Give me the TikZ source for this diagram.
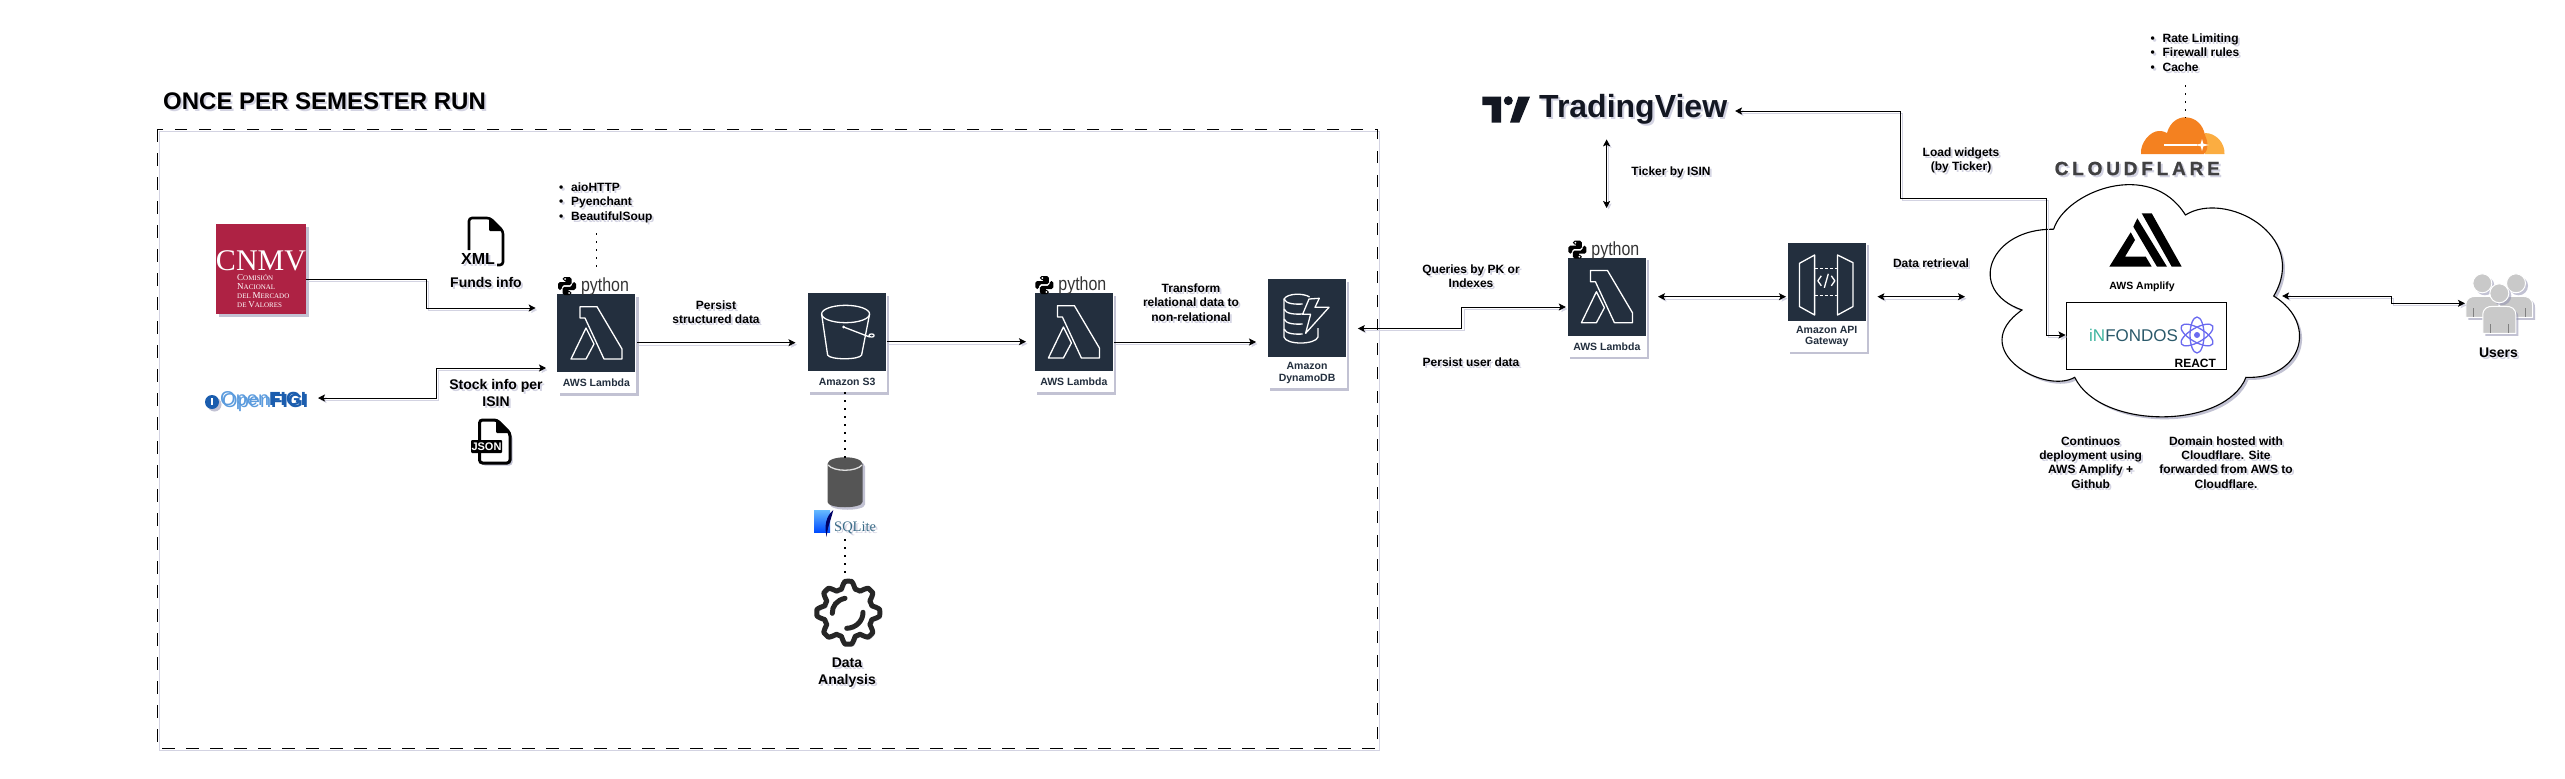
\documentclass[tikz,border=0pt]{standalone}
\usepackage{fontspec}
\setmainfont{Liberation Sans}
\newfontfamily\serifnm{Liberation Serif}
\usetikzlibrary{arrows.meta, positioning, calc, shadows}

\definecolor{shadowcol}{HTML}{D3D3E2}
\definecolor{shadowdark}{HTML}{8F8FAE}
\definecolor{awsdark}{HTML}{232F3E}
\definecolor{cnmvred}{HTML}{AE2244}
\definecolor{figilight}{HTML}{5B9BDD}
\definecolor{figidark}{HTML}{1B5DAE}
\definecolor{dbgray}{HTML}{555555}
\definecolor{sqlitetxt}{HTML}{3A6B87}
\definecolor{tvdark}{HTML}{131722}
\definecolor{flaredark}{HTML}{404041}
\definecolor{flareorange}{HTML}{F48120}
\definecolor{flarelight}{HTML}{FBAD41}
\definecolor{infteal}{HTML}{3FB5A0}
\definecolor{infslate}{HTML}{2B5A6B}
\definecolor{atomblue}{HTML}{6A6AF0}
\definecolor{usergray}{HTML}{C9C9C9}

% text with its soft copy behind it
\newcommand{\sd}[1]{\leavevmode\rlap{\raisebox{-2pt}{\kern2pt\textcolor{shadowcol}{#1}}}#1}
\newcommand{\scc}[2]{{\fontsize{9}{9}\selectfont #1}{\fontsize{7}{9}\selectfont #2}}
\newcommand{\bul}[1]{\makebox[12pt][l]{\textbullet}#1}

\tikzset{
  softshadow/.style={drop shadow={shadow xshift=2.5pt, shadow yshift=-2.5pt, fill=shadowdark, opacity=.55}},
  lineshadow/.style={preaction={draw=shadowcol, transform canvas={xshift=2pt, yshift=-2pt}}},
  conn/.style={draw, line width=.9pt, lineshadow, -{Stealth[length=7pt, width=7pt, inset=1.5pt]}},
  twoway/.style={conn, {Stealth[length=7pt, width=7pt, inset=1.5pt]}-{Stealth[length=7pt, width=7pt, inset=1.5pt]}},
  dots/.style={draw, line width=1.6pt, dash pattern=on 1.6pt off 6.4pt},
  lbl/.style={inner sep=0pt, align=center, font=\bfseries\fontsize{12}{14.4}\selectfont},
  biglbl/.style={inner sep=0pt, align=center, font=\bfseries\fontsize{14}{17}\selectfont},
  bullets/.style={lbl, align=left, anchor=west},
  cardbox/.style={fill=white, minimum width=79pt, inner sep=0pt, anchor=north west, softshadow},
  cardicon/.style={fill=awsdark, minimum width=78pt, minimum height=78pt, inner sep=0pt, anchor=north west},
  cardtext/.style={inner sep=0pt, align=center, text=awsdark, font=\bfseries\fontsize{10.5}{11.7}\selectfont},
  glyph/.style={draw=white, line width=1.3pt, line join=round},
  pytext/.style={inner sep=0pt, xscale=.84, transform shape, text=black!80, font=\fontsize{19}{19}\selectfont},
  docline/.style={draw, line width=2.6pt, rounded corners=3pt},
  lambdaglyph/.pic={
    \draw[glyph] (23,12.7) -- (40,12.7) -- (65,55) -- (65,65) -- (47,65) -- (28,24) -- (23,24) -- cycle;
    \draw[glyph] (14,65) -- (29,34) -- (37,50) -- (29,65) -- cycle;
  },
  bucketglyph/.pic={
    \draw[glyph] (38,21) ellipse (24pt and 8.7pt);
    \draw[glyph] (14,21) -- (20,62) .. controls (22,67) and (52,67) .. (54,62) -- (62,21);
    \draw[glyph] (36,34) -- (62,44);
    \draw[glyph] (64,42.5) ellipse (2.6pt and 1.6pt);
    \fill[white] (36,34) circle (1.6pt);
  },
  dynamoglyph/.pic={
    \draw[glyph] (42,18) .. controls (36,14) and (20,14) .. (16.4,20) -- (16.4,58)
      .. controls (18,66) and (48,66) .. (50.4,58) -- (50.4,49);
    \foreach \yy in {20,30,40,50}
      \draw[glyph] (16.4,\yy) .. controls (18,\yy+5) and (28,\yy+5.5) .. (35,\yy+5);
    \draw[glyph] (41.4,20) -- (51.7,19.3) -- (47.4,28.3) -- (61.4,28.3) -- (38,54.3) -- (43,35.3) -- (35,35.3) -- cycle;
  },
  apiglyph/.pic={
    \draw[glyph] (12.2,21) -- (27.3,12.7) -- (27.3,72.7) -- (12.2,64.3) -- cycle;
    \draw[glyph] (50.2,12.7) -- (65.6,20.3) -- (65.6,64.3) -- (50.2,72.7) -- cycle;
    \draw[glyph, dash pattern=on 3pt off 2pt] (27.3,26) -- (50.2,26);
    \draw[glyph, dash pattern=on 3pt off 2pt] (27.3,53) -- (50.2,53);
    \draw[glyph] (34,33.5) -- (30.5,38.5) -- (34,43.5);
    \draw[glyph] (44,33.5) -- (47.5,38.5) -- (44,43.5);
    \draw[glyph] (41,31.5) -- (37,45.5);
  },
  pysnake/.pic={
    \fill[rounded corners=1.8pt] (-4.5,-9) -- (4.5,-9) -- (4.5,-.8) -- (-5.2,-.8) -- (-5.2,4) -- (-9,4) -- (-9,-4)
      -- (0,-4) -- (0,-5.2) -- (-4.5,-5.2) -- cycle;
    \fill[rounded corners=1.8pt] (4.5,9) -- (-4.5,9) -- (-4.5,.8) -- (5.2,.8) -- (5.2,-4) -- (9,-4) -- (9,4)
      -- (0,4) -- (0,5.2) -- (4.5,5.2) -- cycle;
    \fill[white] (-2,-7) circle (1pt);
    \fill[white] (2,7) circle (1pt);
  },
  pics/person/.style={code={
    \path[fill=usergray, draw=white, line width=1pt, softshadow] (0,0) circle (9.5pt);
    \path[fill=usergray, draw=white, line width=1pt, softshadow]
      (-16.5,#1) -- (-16.5,22) .. controls (-16.5,15) and (-12,13) .. (-6,13) -- (6,13)
      .. controls (12,13) and (16.5,15) .. (16.5,22) -- (16.5,#1) -- cycle;
    \draw[gray, line width=.7pt] (-9,#1-9) -- (-9,#1) (9,#1-9) -- (9,#1);
  }},
}

\newcommand{\awscard}[6]{%
  \node[cardbox, minimum height=#4pt] (#1) at (#2,#3) {};
  \node[cardicon] (#1icon) at (#1.north west) {};
  \node[cardtext] (#1text) at ($(#1icon.south)!.5!(#1.south)$) {#5};
  \pic at (#1icon.north west) {#6};
}
\newcommand{\pylogo}[1]{%
  \pic at ([shift={(10pt,8pt)}]#1.north west) {pysnake};
  \node[pytext] (#1py) at ([shift={(48pt,7pt)}]#1.north west) {python};
}

\begin{document}
\begin{tikzpicture}[x=1pt, y=-1pt]
  \useasboundingbox (0,0) rectangle (2565,779);

  % semester box
  \node[inner sep=0pt, font=\bfseries\fontsize{24}{24}\selectfont, anchor=west] (title) at (163,102) {\sd{ONCE PER SEMESTER RUN}};
  \path[draw, line width=.9pt, dash pattern=on 12.5pt off 11.5pt, lineshadow] (157,129) rectangle (1377,748);

  % sources
  \node[fill=cnmvred, minimum width=90pt, minimum height=90pt, inner sep=0pt, anchor=north west, softshadow] (cnmv) at (216,224) {};
  \node[inner sep=0pt, text=white, font=\serifnm\fontsize{30}{30}\selectfont] (cnmvname) at (261,261) {CNMV};
  \node[inner sep=0pt, text=white, align=left, anchor=north west, font=\serifnm\fontsize{9}{8.9}\selectfont] (cnmvsub) at (237,274.5)
    {\scc{C}{OMISIÓN}\\ \scc{N}{ACIONAL}\\ \scc{}{DEL }\scc{M}{ERCADO}\\ \scc{}{DE }\scc{V}{ALORES}};
  \node[inner sep=0pt, anchor=west, font=\fontsize{20}{20}\selectfont] (figi) at (220,402)
    {\sd{\textcolor{figilight}{Open}{\fontsize{19}{19}\selectfont\bfseries\textcolor{figidark}{FIGI}}}};
  \fill[figidark, softshadow] (212,402) circle (7pt);
  \draw[white, line width=1.4pt] (212,398) -- (212,405);

  \draw[docline] (469,250) -- (469,218) -- (490,218) -- (503,231) -- (503,265) -- (497,265);
  \fill[rounded corners=1pt] (489,218) -- (489,231) -- (503,231) -- cycle;
  \node[inner sep=0pt, font=\bfseries\fontsize{16}{16}\selectfont] (xml) at (478,259.5) {\sd{XML}};
  \node[biglbl] (funds) at (486,283) {\sd{Funds info}};
  \node[biglbl] (stock) at (496,393.5) {\sd{Stock info per}\\\sd{ISIN}};
  \draw[docline, line width=3pt, fill=white, softshadow] (479.5,420) -- (497,420) -- (510,433) -- (510,463) -- (479.5,463) -- cycle;
  \fill[rounded corners=1pt] (496,420) -- (496,433) -- (510,433) -- cycle;
  \node[fill=black, rounded corners=1pt, minimum width=31pt, minimum height=13pt, inner sep=0pt, text=white, font=\bfseries\fontsize{11}{11}\selectfont] (json) at (486.5,446.5) {JSON};

  % pipeline cards
  \awscard{lamA}{557}{294}{99}{AWS Lambda}{lambdaglyph}
  \awscard{bucket}{807.6}{293}{99}{Amazon S3}{bucketglyph}
  \awscard{lamB}{1034.4}{293}{99}{AWS Lambda}{lambdaglyph}
  \awscard{dynamo}{1267.6}{279}{109}{Amazon\\DynamoDB}{dynamoglyph}
  \awscard{lamC}{1567.4}{257.7}{99}{AWS Lambda}{lambdaglyph}
  \awscard{gateway}{1787.3}{242.3}{109.4}{Amazon API\\Gateway}{apiglyph}
  \pylogo{lamA}
  \pylogo{lamB}
  \pylogo{lamC}

  \node[bullets] (libs) at (559,203.5) {\sd{\bul{aioHTTP}}\\\sd{\bul{Pyenchant}}\\\sd{\bul{BeautifulSoup}}};
  \node[lbl] (persist) at (716,313.5) {\sd{Persist}\\\sd{structured data}};
  \node[lbl] (transform) at (1191,303.5) {\sd{Transform}\\\sd{relational data to}\\\sd{non-relational}};

  % sqlite and analysis
  \fill[dbgray, softshadow] (827.5,464) .. controls (828,455) and (862,455) .. (862.5,464) -- (862.5,502)
    .. controls (862,509) and (828,509) .. (827.5,502) -- cycle;
  \draw[white!75!gray, line width=1.3pt] (828,465) .. controls (834,472) and (856,472) .. (862,465);
  \shade[top color=blue!45!cyan!60, bottom color=blue!70!cyan] (814,510) rectangle (830,532);
  \fill[blue!40!black] (833.3,510) .. controls (826,516) and (824,526) .. (826.7,537) .. controls (827,528) and (831,520) .. (833.3,510);
  \node[inner sep=0pt, anchor=west, text=sqlitetxt, font=\serifnm\fontsize{14.5}{14.5}\selectfont] (sqlite) at (834,529) {\sd{SQLite}};
  \draw[line width=5pt, line join=round, color=black!85, lineshadow] plot[domain=0:360, samples=289]
    ({848.3+(28+3.5*max(min(1.5*cos(8*\x),1),-1))*cos(\x)}, {612.7+(28+3.5*max(min(1.5*cos(8*\x),1),-1))*sin(\x)}) -- cycle;
  \draw[line width=5pt, line cap=round, color=black!85] (845,598.3) .. controls (837,600) and (832,606) .. (832.3,613.3);
  \draw[line width=5pt, line cap=round, color=black!85] (863,612.3) .. controls (863,621) and (856,628) .. (846.7,628.3);
  \node[biglbl] (analysis) at (847,673.5) {\sd{Data}\\\sd{Analysis}};

  % right side services
  \fill[tvdark] (1482.3,96.7) -- (1501,96.7) -- (1501,122.7) -- (1491.7,122.7) -- (1491.7,105) -- (1482.3,105) -- cycle;
  \fill[tvdark] (1508.3,100.7) circle (4.5pt);
  \fill[tvdark] (1518.3,96.7) -- (1530,96.7) -- (1519.3,122.7) -- (1510,122.7) -- cycle;
  \node[inner sep=0pt, anchor=west, text=tvdark, font=\bfseries\fontsize{32}{32}\selectfont] (tview) at (1539,110) {\sd{TradingView}};
  \node[lbl] (ticker) at (1671,173) {\sd{Ticker by ISIN}};
  \node[lbl] (queries) at (1471,277.5) {\sd{Queries by PK or}\\\sd{Indexes}};
  \node[lbl] (savedata) at (1471,363) {\sd{Persist user data}};
  \node[lbl] (retrieval) at (1931,264) {\sd{Data retrieval}};
  \node[lbl] (widgets) at (1961,161.5) {\sd{Load widgets}\\\sd{(by Ticker)}};

  % cloud
  \path[draw, fill=white, line width=1.1pt, softshadow] (2053.6,229.3) .. controls (2065,192) and (2150,158) .. (2185.4,215)
    .. controls (2225,190) and (2310,235) .. (2273.7,296)
    .. controls (2320,325) and (2300,380) .. (2246,377.3)
    .. controls (2225,430) and (2100,430) .. (2074.7,377.3)
    .. controls (2045,395) and (1965,350) .. (2022,310)
    .. controls (1965,290) and (1990,228) .. (2053.6,229.3);
  \fill (2109.3,266.7) -- (2130.7,232.3) -- (2135,240) -- (2125,256.7) -- (2145.7,256.7) -- (2151.7,266.7) -- cycle;
  \fill (2137.3,218.3) -- (2167,266.7) -- (2157,266.7) -- (2133.3,226.7) -- cycle;
  \fill (2141.7,213.3) -- (2151.7,213.3) -- (2181.7,266.7) -- (2171.7,266.7) -- cycle;
  \node[inner sep=0pt, font=\bfseries\fontsize{10.5}{10.5}\selectfont] (amplify) at (2142,286.7) {AWS Amplify};
  \node[draw, line width=1.1pt, minimum width=160pt, minimum height=67pt, inner sep=0pt, anchor=north west, fill=white] (webapp) at (2066,302) {};
  \node[inner sep=0pt, anchor=west, font=\fontsize{17}{17}\selectfont] (infondos) at (2089,335) {\textcolor{infteal}{iN}\textcolor{infslate}{FONDOS}};
  \foreach \aa in {90,30,-30}
    \draw[atomblue, line width=1.3pt, rotate around={\aa:(2197,335)}] (2197,335) ellipse (18pt and 7pt);
  \fill[atomblue] (2197,335) circle (3pt);
  \node[inner sep=0pt, font=\bfseries\fontsize{12}{12}\selectfont] (react) at (2195.3,363.3) {REACT};

  % cloudflare
  \fill[flarelight] (2205,133) .. controls (2216,133) and (2225,143) .. (2224.5,154) -- (2205,154) -- cycle;
  \fill[flareorange] (2141,154) .. controls (2140,143) and (2150,131) .. (2159,131) .. controls (2163,131) and (2165,132) .. (2167,133)
    .. controls (2170,122) and (2178,117.3) .. (2185,117.3) .. controls (2196,117.3) and (2203,125) .. (2205,135)
    .. controls (2207,140) and (2210,148) .. (2204,154) -- cycle;
  \draw[white, line width=1.3pt] (2164,145) -- (2197,145);
  \fill[white] (2202,139) -- (2203.3,143.7) -- (2209,145) -- (2203.3,146.3) -- (2202,151) -- (2200.7,146.3) -- (2195,145) -- (2200.7,143.7) -- cycle;
  \node[inner sep=0pt, anchor=west, text=flaredark, font=\bfseries\addfontfeature{LetterSpace=20,FakeBold=1}\fontsize{19}{19}\selectfont] (flare) at (2054.5,169.5) {\sd{CLOUDFLARE}};
  \node[bullets] (rules) at (2150.4,53.5) {\sd{\bul{Rate Limiting}}\\\sd{\bul{Firewall rules}}\\\sd{\bul{Cache}}};

  % users
  \pic at (2482.3,283.3) {person=34};
  \pic at (2516,283.3) {person=34};
  \pic at (2499.3,293.3) {person=40};
  \node[biglbl] (users) at (2498.5,354) {\sd{Users}};

  \node[lbl] (deploy) at (2090.7,463.5) {\sd{Continuos}\\\sd{deployment using}\\\sd{AWS Amplify +}\\\sd{Github}};
  \node[lbl] (domain) at (2226,463.5) {\sd{Domain hosted with}\\\sd{Cloudflare. Site}\\\sd{forwarded from AWS to}\\\sd{Cloudflare.}};

  % free ends of the connectors
  \coordinate (cnmvOut) at (306,279);
  \coordinate (lamAinT) at (535.7,308);
  \coordinate (lamAinB) at (546,368);
  \coordinate (figiOut) at (318,398);
  \coordinate (lamAout) at (637,342.7);
  \coordinate (bucketIn) at (795.5,342.7);
  \coordinate (bucketOut) at (886.6,341.7);
  \coordinate (lamBin) at (1026,341.7);
  \coordinate (lamBout) at (1113.5,342);
  \coordinate (dynamoIn) at (1256,342);
  \coordinate (dynamoOut) at (1357.8,328.5);
  \coordinate (lamCin) at (1565.8,307);
  \coordinate (tviewB) at (1606.6,139.3);
  \coordinate (lamCtop) at (1606.6,208);
  \coordinate (lamCout) at (1658,296.7);
  \coordinate (gatewayIn) at (1786,296.7);
  \coordinate (gatewayOut) at (1877.4,296.7);
  \coordinate (cloudIn) at (1965,296.7);
  \coordinate (tviewR) at (1735,111);
  \coordinate (webappIn) at (2065.5,335);
  \coordinate (cloudR) at (2282,296);
  \coordinate (usersIn) at (2465,303.3);
  \coordinate (libsDot) at (596.4,233);
  \coordinate (lamAdot) at (596.4,270);
  \coordinate (sqlTop) at (845,458);
  \coordinate (sqliteDot) at (845,539);
  \coordinate (gearDot) at (845,573);
  \coordinate (rulesDot) at (2185.4,85);
  \coordinate (flareDot) at (2185.4,118);

  % connectors
  \draw[conn] (cnmvOut) -| (426.4,308) -- (lamAinT);
  \draw[twoway] (figiOut) -| (436.4,368) -- (lamAinB);
  \draw[conn] (lamAout) -- (bucketIn);
  \draw[conn] (bucketOut) -- (lamBin);
  \draw[conn] (lamBout) -- (dynamoIn);
  \draw[twoway] (dynamoOut) -| (1461.8,307) -- (lamCin);
  \draw[twoway] (tviewB) -- (lamCtop);
  \draw[twoway] (lamCout) -- (gatewayIn);
  \draw[twoway] (gatewayOut) -- (cloudIn);
  \draw[twoway] (tviewR) -| (1900.4,198) -| (2046.5,335) -- (webappIn);
  \draw[twoway] (cloudR) -| (2391,303.3) -- (usersIn);
  \draw[dots] (libsDot) -- (lamAdot);
  \draw[dots] (bucket.south -| sqlTop) -- (sqlTop);
  \draw[dots] (sqliteDot) -- (gearDot);
  \draw[dots] (rulesDot) -- (flareDot);
\end{tikzpicture}
\end{document}
